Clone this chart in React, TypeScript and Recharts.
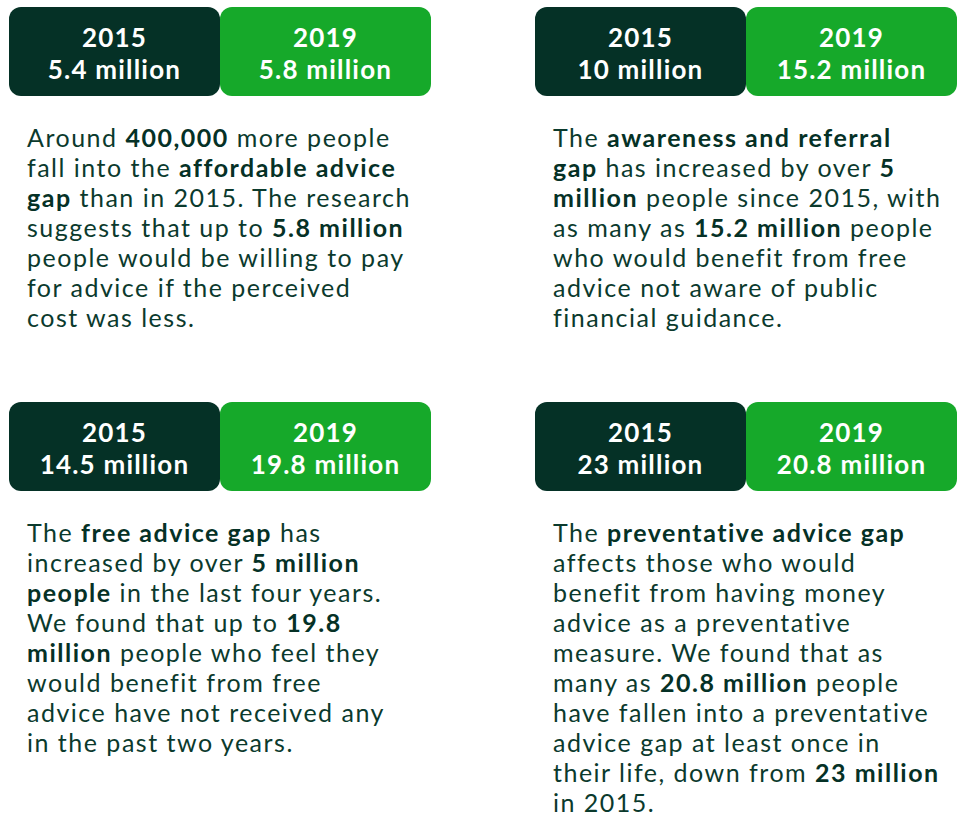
import React from "react";
import { Bar, BarChart, Cell, LabelList, XAxis, YAxis } from "recharts";

const years = ["2015", "2019"];
const affordableGap = [5.4, 5.8];
const awarenessGap = [10, 15.2];
const freeGap = [14.5, 19.8];
const preventativeGap = [23, 20.8];

// each line of a text block: [text, bold] pieces
type Piece = [string, boolean];

const affordableText: Piece[][] = [
  [["Around ", false], ["400,000", true], [" more people", false]],
  [["fall into the ", false], ["affordable advice", true]],
  [["gap", true], [" than in 2015. The research", false]],
  [["suggests that up to ", false], ["5.8 million", true]],
  [["people would be willing to pay", false]],
  [["for advice if the perceived", false]],
  [["cost was less.", false]],
];

const awarenessText: Piece[][] = [
  [["The ", false], ["awareness and referral", true]],
  [["gap", true], [" has increased by over ", false], ["5", true]],
  [["million", true], [" people since 2015, with", false]],
  [["as many as ", false], ["15.2 million", true], [" people", false]],
  [["who would benefit from free", false]],
  [["advice not aware of public", false]],
  [["financial guidance.", false]],
];

const freeText: Piece[][] = [
  [["The ", false], ["free advice gap", true], [" has", false]],
  [["increased by over ", false], ["5 million", true]],
  [["people", true], [" in the last four years.", false]],
  [["We found that up to ", false], ["19.8", true]],
  [["million", true], [" people who feel they", false]],
  [["would benefit from free", false]],
  [["advice have not received any", false]],
  [["in the past two years.", false]],
];

const preventativeText: Piece[][] = [
  [["The ", false], ["preventative advice gap", true]],
  [["affects those who would", false]],
  [["benefit from having money", false]],
  [["advice as a preventative", false]],
  [["measure. We found that as", false]],
  [["many as ", false], ["20.8 million", true], [" people", false]],
  [["have fallen into a preventative", false]],
  [["advice gap at least once in", false]],
  [["their life, down from ", false], ["23 million", true]],
  [["in 2015.", false]],
];

const DARK = "#053126";
const GREEN = "#16a92a";
const TEXT = "#0b3a2d";
const FONT = "Lato, 'Noto Sans', sans-serif";

const BOX_W = 422;
const BOX_H = 89;

function toRows(values: number[]) {
  return years.map((year, i) => ({ year, value: values[i] }));
}

function BoxShape(props: any) {
  const bg = props.background;
  const x = bg ? bg.x : props.x;
  const w = bg ? bg.width : props.width;
  const y = bg ? bg.y : 0;
  const h = bg ? bg.height : BOX_H;
  return <rect x={x} y={y} width={w} height={h} rx={12} ry={12} fill={props.fill} />;
}

function BoxLabel(props: any) {
  const { x, width, index, value } = props;
  const cx = x + width / 2;
  const common = {
    x: cx,
    textAnchor: "middle" as const,
    fill: "#ffffff",
    fontFamily: FONT,
    fontWeight: 700,
    fontSize: 26,
    letterSpacing: 1.2,
  };
  return (
    <g>
      <text {...common} y={40}>
        {years[index]}
      </text>
      <text {...common} y={72}>
        {`${value} million`}
      </text>
    </g>
  );
}

function YearBoxes({ values, left, top }: { values: number[]; left: number; top: number }) {
  const data = toRows(values);
  return (
    <div style={{ position: "absolute", left, top }}>
      <BarChart
        width={BOX_W}
        height={BOX_H}
        data={data}
        margin={{ top: 0, right: 0, bottom: 0, left: 0 }}
        barCategoryGap={0}
      >
        <XAxis dataKey="year" hide />
        <YAxis hide domain={[0, 30]} />
        <Bar dataKey="value" shape={BoxShape} isAnimationActive={false}>
          {data.map((d, i) => (
            <Cell key={d.year} fill={i === 0 ? DARK : GREEN} />
          ))}
          <LabelList dataKey="value" content={BoxLabel} />
        </Bar>
      </BarChart>
    </div>
  );
}

function TextBlock({ lines, left, top }: { lines: Piece[][]; left: number; top: number }) {
  return (
    <div
      style={{
        position: "absolute",
        left,
        top,
        fontFamily: FONT,
        fontSize: 25,
        lineHeight: "30px",
        color: TEXT,
        letterSpacing: 1.5,
        whiteSpace: "nowrap",
      }}
    >
      {lines.map((line, i) => (
        <div key={i}>
          {line.map(([t, b], j) =>
            b ? (
              <span key={j} style={{ fontWeight: 700, color: DARK }}>
                {t}
              </span>
            ) : (
              <span key={j}>{t}</span>
            )
          )}
        </div>
      ))}
    </div>
  );
}

export default function App() {
  return (
    <div style={{ position: "absolute", left: 0, top: 0, width: 961, height: 814, background: "#fff" }}>
      <YearBoxes values={affordableGap} left={9} top={7} />
      <YearBoxes values={awarenessGap} left={535} top={7} />
      <YearBoxes values={freeGap} left={9} top={402} />
      <YearBoxes values={preventativeGap} left={535} top={402} />
      <TextBlock lines={affordableText} left={27} top={122} />
      <TextBlock lines={awarenessText} left={553} top={122} />
      <TextBlock lines={freeText} left={27} top={517} />
      <TextBlock lines={preventativeText} left={553} top={517} />
    </div>
  );
}
